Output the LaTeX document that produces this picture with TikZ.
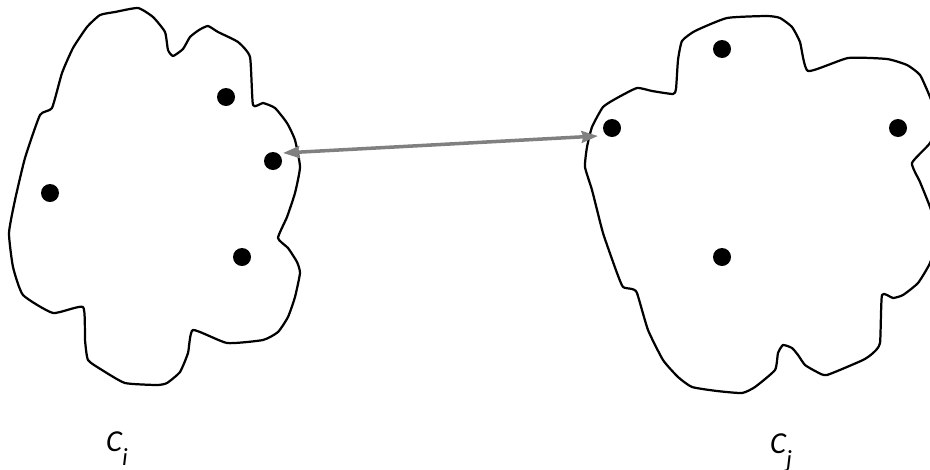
\documentclass[tikz,border=0pt]{standalone}
\usepackage{fontspec}
\setmainfont{Carlito}
\usetikzlibrary{arrows.meta}

\begin{document}
\begin{tikzpicture}[x=0.03cm,y=-0.03cm,
  blob/.style={draw=black,line width=1.9pt,line join=round},
  dot/.style={circle,fill=black,minimum size=0.54cm,inner sep=0pt},
  link/.style={{Stealth[length=14pt,width=10pt,inset=1.5pt]}-{Stealth[length=14pt,width=10pt,inset=1.5pt]},line width=3pt,gray},
  lbl/.style={font=\fontsize{26}{30}\selectfont\itshape,inner sep=0pt,anchor=base west}]
\useasboundingbox (0,0) rectangle (930,469);
% cluster C_i
\draw[blob] plot[smooth cycle,tension=0.3] coordinates {(138,8) (153,17) (165,32) (168,50) (173,56) (183,49) (190,37) (199,30) (208,26) (218,32) (238,42) (250,57) (253,105) (263,103) (275,108) (287,123) (295,140) (300,167) (295,193) (287,217) (278,238) (288,248) (297,262) (300,273) (295,297) (288,317) (278,332) (263,340) (227,343) (193,330) (188,353) (180,372) (167,383) (157,385) (125,383) (102,370) (88,360) (85,340) (83,307) (53,313) (23,295) (13,267) (9,233) (15,200) (25,158) (40,115) (52,108) (62,73) (73,48) (87,27) (100,15) (115,12)};
% cluster C_j
\draw[blob] plot[smooth cycle,tension=0.3] coordinates {(727,18) (767,16) (780,18) (792,27) (800,42) (808,71) (848,58) (887,59) (907,65) (920,75) (930,97) (938,120) (930,143) (912,163) (920,182) (930,207) (938,235) (930,263) (918,283) (903,295) (893,298) (882,295) (880,343) (873,353) (863,360) (827,375) (817,372) (805,365) (798,355) (792,348) (783,345) (778,353) (775,370) (755,387) (742,393) (717,391) (692,387) (678,377) (663,360) (648,330) (637,293) (632,289) (623,287) (617,273) (603,233) (592,190) (585,167) (587,147) (592,127) (603,107) (617,98) (637,88) (652,91) (673,94) (676,89) (678,60) (682,41) (695,31)};
\foreach \x/\y/\n in {226/97/i1,273/161/i2,50/193/i3,242/257/i4,722/49/j1,612/128/j2,898/128/j3,722/257/j4}
  \node[dot] (\n) at (\x,\y) {};
\coordinate (tipL) at (283,153);
\coordinate (tipR) at (598,136);
\draw[link] (tipL) -- (tipR);
\node[lbl] (ci) at (106,451) {C\raisebox{-12pt}{\fontsize{21}{24}\selectfont i}};
\node[lbl] (cj) at (770,453) {C\raisebox{-12pt}{\fontsize{21}{24}\selectfont j}};
\end{tikzpicture}
\end{document}
